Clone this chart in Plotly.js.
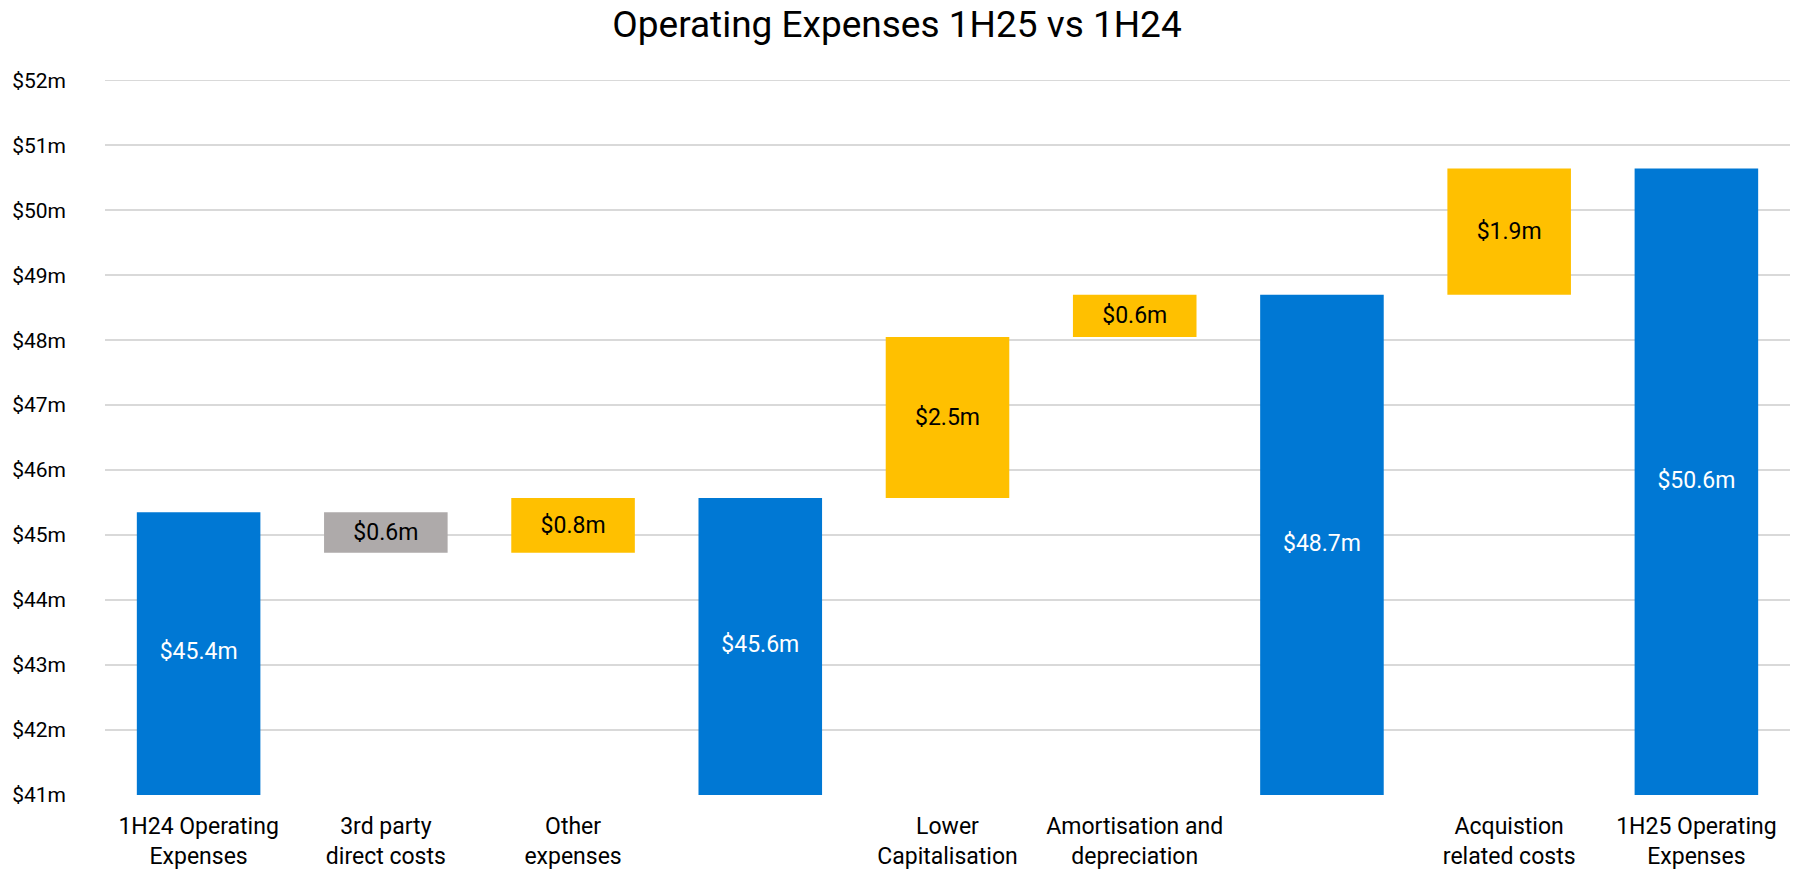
<!DOCTYPE html>
<html>
<head>
<meta charset="utf-8">
<script src="https://cdn.plot.ly/plotly-3.0.1.min.js"></script>
<style>html,body{margin:0;padding:0;background:#fff}#chart{width:1794px;height:872px}</style>
</head>
<body>
<div id="chart"></div>
<script>
const categories = ["1H24 Operating<br>Expenses", "3rd party<br>direct costs", "Other<br>expenses", "", "Lower<br>Capitalisation", "Amortisation and<br>depreciation", "", "Acquistion<br>related costs", "1H25 Operating<br>Expenses"];
const measures = ["absolute", "relative", "relative", "total", "relative", "relative", "total", "relative", "total"];
const values = [45.35, -0.62, 0.84, 45.57, 2.48, 0.65, 48.70, 1.94, 50.64];
const labels = ["$45.4m", "$0.6m", "$0.8m", "$45.6m", "$2.5m", "$0.6m", "$48.7m", "$1.9m", "$50.6m"];
const yTickVals = [41, 42, 43, 44, 45, 46, 47, 48, 49, 50, 51, 52];
const yTickText = yTickVals.map(v => "$" + v + "m");
const yMin = 41, yMax = 52;

const xIdx = categories.map((c, i) => i);
const isTotal = measures.map(m => m !== "relative");

// labels inside the floating step bars come from the waterfall trace
const stepText = labels.map((t, i) => (isTotal[i] ? "" : t));

const trace = {
  type: "waterfall",
  x: xIdx,
  y: values,
  measure: measures,
  text: stepText,
  textposition: "inside",
  insidetextanchor: "middle",
  constraintext: "none",
  textfont: { family: "Roboto, sans-serif", size: 23, color: "#000000" },
  increasing: { marker: { color: "#FFC000" } },
  decreasing: { marker: { color: "#AEAAAA" } },
  totals: { marker: { color: "#0078D4" } },
  connector: { visible: false },
  hoverinfo: "none"
};

// totals: label centred in the visible part of the bar (axis starts at yMin)
const totX = [], totY = [], totT = [];
xIdx.forEach(i => {
  if (isTotal[i]) {
    totX.push(i);
    totY.push((yMin + values[i]) / 2);
    totT.push(labels[i]);
  }
});
const totalLabels = {
  type: "scatter",
  mode: "text",
  x: totX,
  y: totY,
  text: totT,
  textposition: "middle center",
  textfont: { family: "Roboto, sans-serif", size: 23, color: "#ffffff" },
  hoverinfo: "none",
  cliponaxis: false
};

const layout = {
  width: 1794,
  height: 872,
  margin: { l: 105, r: 4, t: 77, b: 77 },
  paper_bgcolor: "#ffffff",
  plot_bgcolor: "#ffffff",
  showlegend: false,
  waterfallgap: 0.34,
  title: {
    text: "Operating Expenses 1H25 vs 1H24",
    font: { family: "Roboto, sans-serif", size: 37, color: "#000000" },
    x: 0.5, xanchor: "center", y: 0.972, yanchor: "middle"
  },
  xaxis: {
    tickmode: "array",
    tickvals: xIdx,
    ticktext: categories,
    range: [-0.5, categories.length - 0.5],
    showgrid: false,
    zeroline: false,
    showline: false,
    ticks: "",
    tickfont: { family: "Roboto, sans-serif", size: 23, color: "#000000" },
    ticklabelstandoff: 15
  },
  yaxis: {
    range: [yMin, yMax + 0.05],
    tickmode: "array",
    tickvals: yTickVals,
    ticktext: yTickText,
    showgrid: true,
    gridcolor: "#d9d9d9",
    gridwidth: 1.5,
    zeroline: false,
    showline: false,
    ticks: "",
    tickfont: { family: "Roboto, sans-serif", size: 21, color: "#000000" },
    ticklabelstandoff: 38
  }
};

Plotly.newPlot("chart", [trace, totalLabels], layout, { displayModeBar: false, staticPlot: true });
</script>
</body>
</html>
